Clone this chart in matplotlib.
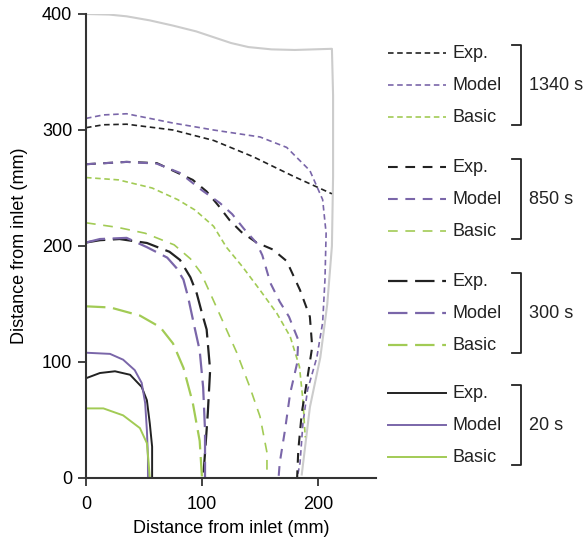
import matplotlib
matplotlib.use("Agg")
import matplotlib.pyplot as plt
from matplotlib.lines import Line2D

plt.rcParams["font.family"] = ["Liberation Sans", "DejaVu Sans"]
plt.rcParams["lines.scale_dashes"] = False

# Mould outline (light grey)
outline_x = [0, 20, 35, 55, 75, 95, 110, 125, 140, 160, 180, 212, 213, 213, 212, 208, 202, 193, 186]
outline_y = [400, 399.5, 398, 394.5, 390, 385, 380, 375, 371.5, 369.5, 369, 370, 330, 260, 200, 150, 104, 61, 3]

# 1340 s
exp_1340_x = [0, 15, 35, 75, 110, 144, 179, 212]
exp_1340_y = [302, 304.5, 305, 300, 291, 277, 260, 245]
model_1340_x = [0, 15, 35, 75, 110, 150, 173, 193, 204, 207, 206, 204, 199, 191, 187, 184.5, 182]
model_1340_y = [310, 313, 314, 306, 300, 294, 285, 265, 240, 211, 171, 134, 104, 76, 47, 13, 0]
basic_1340_x = [0, 28, 57, 79, 94, 110, 121, 135, 150, 164.5, 176, 184, 187, 189]
basic_1340_y = [259, 257, 250, 240, 231, 217, 199, 182, 162, 142, 122, 96, 67, 35]

# 850 s
exp_850_x = [0, 35, 61, 92, 104, 114, 124, 134, 147, 161, 173, 184.5, 193, 195, 191, 186, 183, 182]
exp_850_y = [270.5, 272.5, 271.5, 257, 247, 235, 222, 212, 203, 197, 187, 162, 139, 113, 87, 56, 24, 0]
model_850_x = [0, 35, 61, 81, 100, 115.5, 126, 136, 147, 152, 159, 167, 175, 183, 182, 176, 171.5, 167, 166]
model_850_y = [270.5, 272.5, 271, 263, 248, 237, 227.5, 215, 202.6, 192, 168, 152, 139, 119, 99, 73, 41, 13, 0]
basic_850_x = [0, 27.6, 51, 76, 90, 99, 109, 117.5, 130, 141, 150, 156, 156]
basic_850_y = [220, 216, 211, 201, 189, 177, 155, 136, 108, 79, 53, 22, 0]

# 300 s
exp_300_x = [0, 12, 29, 52.5, 72, 81, 90, 95.5, 100, 104, 107, 105, 102.6, 101]
exp_300_y = [203, 205, 206, 202.6, 195, 188, 173, 159, 142, 128, 93, 56, 21.5, 0]
model_300_x = [0, 12, 35, 52.5, 70, 78, 84, 88, 91, 94, 98, 101, 102.6, 102.6]
model_300_y = [203, 206, 207, 199, 190, 181, 171, 156, 142, 128, 110, 78, 41, 0]
basic_300_x = [0, 21, 46.5, 64, 75, 84, 92, 98, 100]
basic_300_y = [148, 147, 140, 130, 116, 95, 65, 32, 0]

# 20 s
exp_20_x = [0, 12, 25, 38, 48, 52.5, 55, 57, 57]
exp_20_y = [86, 90.5, 92, 89, 78.5, 67, 47, 27, 0]
model_20_x = [0, 20.7, 32, 42, 48, 51, 52.5, 53.4, 53.4]
model_20_y = [108, 107, 102, 93, 82, 64.6, 41, 18, 0]
basic_20_x = [0, 15, 32, 46.5, 52.5, 54, 55]
basic_20_y = [60, 60, 54, 43, 30, 13, 0]

times = ["1340 s", "850 s", "300 s", "20 s"]
kinds = ["Exp.", "Model", "Basic"]

BLACK = "#222222"
PURPLE = "#7a66a9"
GREEN = "#a2cb55"
GREY = "#cccccc"
colors = [BLACK, PURPLE, GREEN]

# line style per time: (dashes in points or None, linewidth)
styles = {
    "1340 s": ((4.0, 2.6), 1.2),
    "850 s": ((7.0, 5.5), 1.5),
    "300 s": ((14.0, 5.5), 1.6),
    "20 s": (None, 1.4),
}

curves = {
    "1340 s": [(exp_1340_x, exp_1340_y), (model_1340_x, model_1340_y), (basic_1340_x, basic_1340_y)],
    "850 s": [(exp_850_x, exp_850_y), (model_850_x, model_850_y), (basic_850_x, basic_850_y)],
    "300 s": [(exp_300_x, exp_300_y), (model_300_x, model_300_y), (basic_300_x, basic_300_y)],
    "20 s": [(exp_20_x, exp_20_y), (model_20_x, model_20_y), (basic_20_x, basic_20_y)],
}

W, H = 585, 541
fig = plt.figure(figsize=(W / 100, H / 100), dpi=100)
ax = fig.add_axes([86 / W, 1 - 478 / H, 290 / W, 464 / H])

ax.plot(outline_x, outline_y, color=GREY, lw=1.5, zorder=1, solid_joinstyle="round")


def styled_line(line, t, kind=None):
    dashes, lw = styles[t]
    if t == "850 s" and kind == "Basic":
        lw = 1.2  # the basic 850 s curve is drawn thinner
    line.set_linewidth(lw)
    if dashes is not None:
        line.set_dashes(dashes)
        line.set_dash_capstyle("butt")
    line.set_solid_joinstyle("round")


for t in times:
    for (xs, ys), c, k in zip(curves[t], colors, kinds):
        (ln,) = ax.plot(xs, ys, color=c, zorder=2)
        styled_line(ln, t, k)

ax.set_xlim(0, 250)
ax.set_ylim(0, 400)
ax.set_xticks([0, 100, 200])
ax.set_yticks([0, 100, 200, 300, 400])
ax.spines["top"].set_visible(False)
ax.spines["right"].set_visible(False)
for s in ("left", "bottom"):
    ax.spines[s].set_linewidth(1.5)
    ax.spines[s].set_color("#333333")
ax.tick_params(axis="both", length=6, width=1.3, color="#333333", labelsize=13)
ax.tick_params(axis="x", pad=7)
ax.tick_params(axis="y", pad=4)
ax.set_xlabel("Distance from inlet (mm)", fontsize=13, labelpad=5)
ax.set_ylabel("Distance from inlet (mm)", fontsize=13, labelpad=10)

# custom legend with brackets
group_top = [53, 167, 281, 393]
row_gap = 32
for t, top in zip(times, group_top):
    for i, (k, c) in enumerate(zip(kinds, colors)):
        py = top + i * row_gap
        ln = Line2D([388 / W, 446 / W], [1 - py / H, 1 - py / H], transform=fig.transFigure, color=c)
        styled_line(ln, t, k)
        fig.add_artist(ln)
        fig.text(452 / W, 1 - py / H, k, fontsize=13, va="center", ha="left", color="#222222")
    y0 = top - 8
    y1 = top + 2 * row_gap + 8
    br = Line2D([512 / W, 521 / W, 521 / W, 512 / W],
                [1 - y0 / H, 1 - y0 / H, 1 - y1 / H, 1 - y1 / H],
                transform=fig.transFigure, color="#222222", lw=1.3)
    fig.add_artist(br)
    fig.text(529 / W, 1 - (top + row_gap) / H, t, fontsize=13, va="center", ha="left", color="#222222")

fig.savefig("out.png", dpi=100)
